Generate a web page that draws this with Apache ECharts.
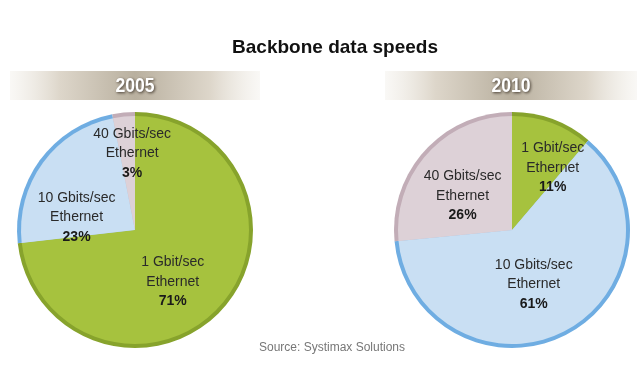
<!DOCTYPE html>
<html><head><meta charset="utf-8">
<script src="https://cdn.jsdelivr.net/npm/echarts@6/dist/echarts.min.js"></script>
<style>html,body{margin:0;padding:0;background:#fff}#c{width:640px;height:370px}</style>
</head><body><div id="c"></div>
<script>
var title = 'Backbone data speeds';
var source = 'Source: Systimax Solutions';
var years = ['2005', '2010'];
var names2005 = ['1 Gbit/sec\nEthernet', '10 Gbits/sec\nEthernet', '40 Gbits/sec\nEthernet'];
var values2005 = [71, 23, 3];
var names2010 = ['1 Gbit/sec\nEthernet', '10 Gbits/sec\nEthernet', '40 Gbits/sec\nEthernet'];
var values2010 = [11, 61, 26];
// small label nudges (text placement only)
var nudge2005 = [[-7, 12], [-10, 23], [3, -17]];
var nudge2010 = [[20, -6], [-6, 1], [-5, 6]];

var fills = ['#a6c23e', '#c9dff3', '#ddd1d7'];
var rims = ['#87a32c', '#6fade2', '#c2adb7'];
var FONT = '"Liberation Sans Narrow","Liberation Sans",Arial,sans-serif';

function build(names, values, fillMode) {
  return names.map(function (n, i) {
    return { name: n, value: values[i], itemStyle: { color: fillMode ? fills[i] : rims[i] } };
  });
}

function pieSeries(names, values, cx, nudge) {
  return [
    {
      type: 'pie', center: [cx, 230], radius: [0, 118], startAngle: 90, clockwise: true,
      silent: true, animation: false, avoidLabelOverlap: false,
      label: { show: false }, labelLine: { show: false },
      data: build(names, values, false)
    },
    {
      type: 'pie', center: [cx, 230], radius: [0, 114], startAngle: 90, clockwise: true,
      silent: true, animation: false, avoidLabelOverlap: false, minShowLabelAngle: 0,
      itemStyle: { borderWidth: 0 },
      label: {
        show: true, position: 'inside', overflow: 'none',
        formatter: function (p) { return '{n|' + p.name.split('\n').join('}\n{n|') + '}\n{p|' + p.value + '%}'; },
        rich: {
          n: { fontFamily: FONT, fontSize: 14, color: '#2a2a2a', lineHeight: 19.5, align: 'center' },
          p: { fontFamily: FONT, fontSize: 14, fontWeight: 'bold', color: '#1a1a1a', lineHeight: 19.5, align: 'center' }
        }
      },
      labelLayout: function (params) {
        var d = nudge[params.dataIndex];
        return { dx: d[0], dy: d[1], hideOverlap: false };
      },
      labelLine: { show: false },
      data: build(names, values, true)
    }
  ];
}

var chart = echarts.init(document.getElementById('c'), null, { renderer: 'canvas' });

function band(x, w) {
  return {
    type: 'rect', shape: { x: x, y: 71, width: w, height: 29 }, silent: true,
    style: {
      fill: new echarts.graphic.LinearGradient(0, 0, 1, 0, [
        { offset: 0, color: 'rgba(236,232,224,0.3)' },
        { offset: 0.2, color: '#ddd6ca' },
        { offset: 0.5, color: '#b9b09f' },
        { offset: 0.8, color: '#ddd6ca' },
        { offset: 1, color: 'rgba(236,232,224,0.3)' }
      ])
    }
  };
}
function yearText(txt, x) {
  return {
    type: 'text', x: x, y: 86, scaleX: 0.88, silent: true,
    style: {
      text: txt, fill: '#ffffff', font: 'bold 20px ' + FONT,
      align: 'center', verticalAlign: 'middle',
      textShadowColor: 'rgba(50,40,30,0.9)', textShadowBlur: 3, textShadowOffsetX: 1, textShadowOffsetY: 1
    }
  };
}

chart.setOption({
  backgroundColor: '#ffffff',
  title: [
    { text: title, left: 330, textAlign: 'center', top: 33, textStyle: { fontFamily: '"Liberation Sans",Arial,sans-serif', fontSize: 19, fontWeight: 'bold', color: '#111' } },
    { text: source, left: 327, top: 337, textAlign: 'center', textStyle: { fontFamily: FONT, fontSize: 12, fontWeight: 'normal', color: '#777' } }
  ],
  graphic: [band(10, 250), band(385, 252), yearText(years[0], 135), yearText(years[1], 511)],
  series: pieSeries(names2005, values2005, 135, nudge2005).concat(pieSeries(names2010, values2010, 512, nudge2010))
});
</script></body></html>
